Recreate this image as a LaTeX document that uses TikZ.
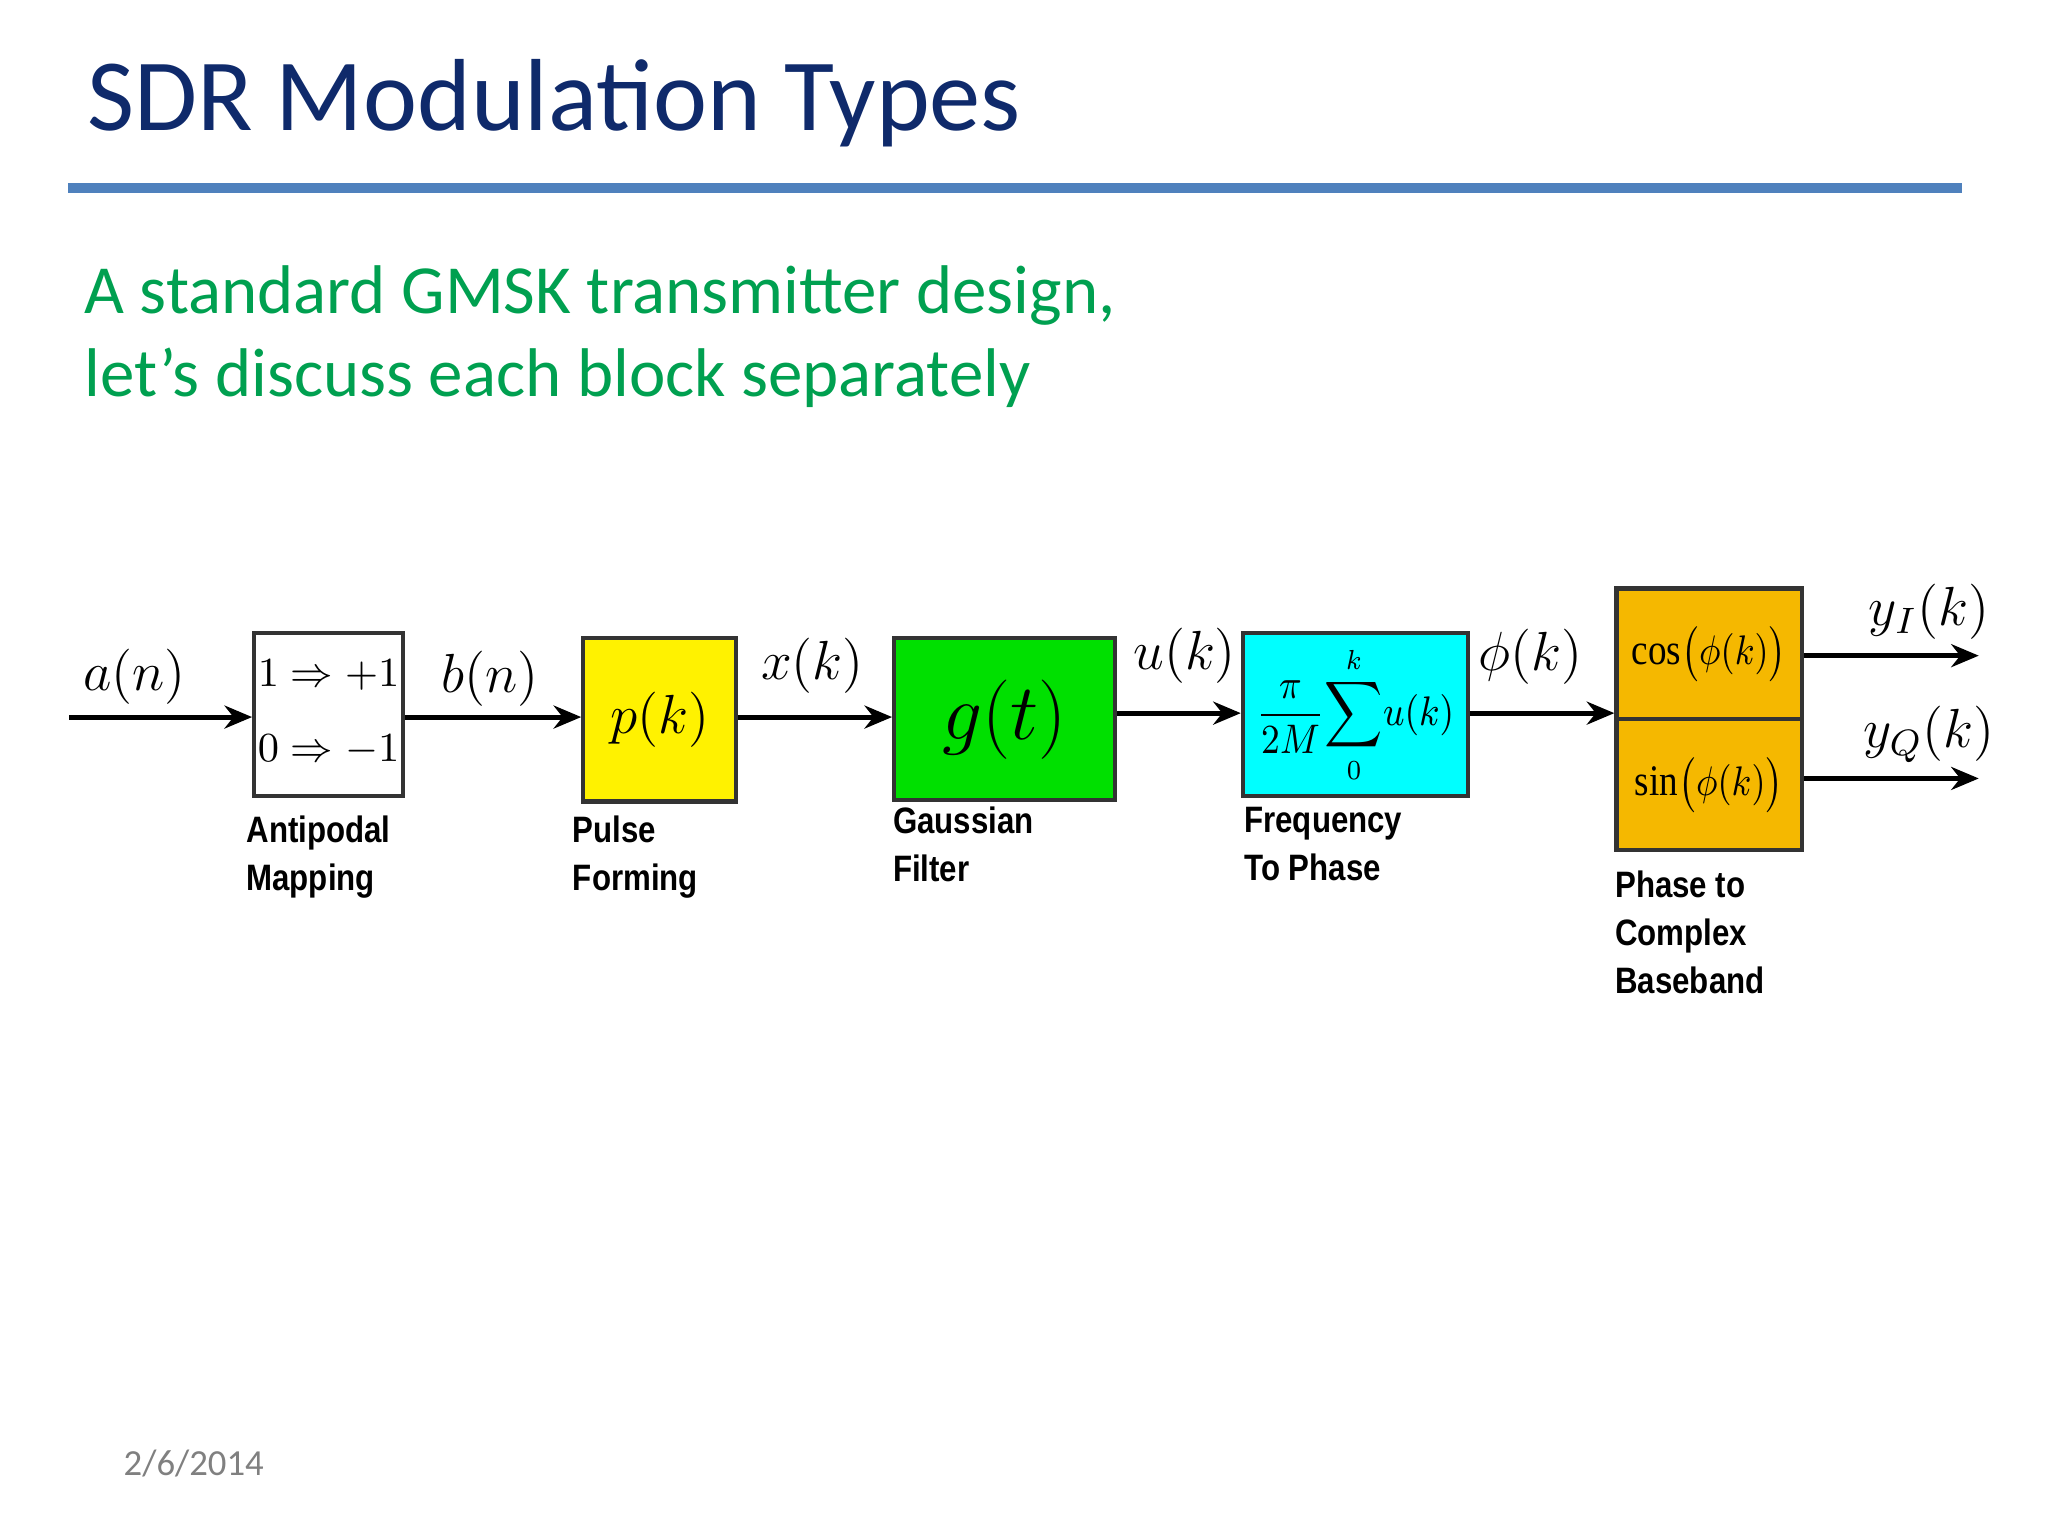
\documentclass[tikz,border=0pt]{standalone}
\usepackage{fontspec}
\setmainfont{Carlito}
\newfontfamily\lab{Liberation Sans}
\newfontfamily\tms{Liberation Serif}
\usetikzlibrary{arrows.meta}
\definecolor{navy}{HTML}{0F2A6B}
\definecolor{rulec}{HTML}{4F81BD}
\definecolor{grn}{HTML}{00A050}
\definecolor{gbox}{HTML}{00E000}
\definecolor{obox}{HTML}{F5B800}
\definecolor{cbox}{HTML}{00FFFF}
\tikzset{
 blk/.style={draw=black!80, line width=0.9pt, inner sep=0pt},
 arr/.style={line width=1.1pt, -{Stealth[length=6pt,width=5pt]}},
 blab/.style={anchor=north west, align=left, font=\lab\bfseries\fontsize{8}{10.5}\selectfont, inner sep=0pt},
 sig/.style={font=\fontsize{11.5}{14}\selectfont}
}
\begin{document}
\begin{tikzpicture}[x=0.01cm,y=-0.01cm]
\useasboundingbox (0,0) rectangle (1568,1176);
\node[anchor=base west, inner sep=0, text=navy, font=\fontsize{22.3}{26}\selectfont] (title) at (66,100) {SDR Modulation Types};
\draw[rulec, line width=2.2pt] (52,144) -- (1502,144);
\node[anchor=north west, inner sep=0, align=left, text=grn, font=\fontsize{15}{18}\selectfont] (sub) at (64,203) {A standard GMSK transmitter design,\\ let’s discuss each block separately};
\node[anchor=base west, inner sep=0, text=gray, font=\fontsize{8}{10}\selectfont] (date) at (94,1130) {2/6/2014};

% blocks
\node[blk, fill=white, anchor=north west, minimum width=1.14cm, minimum height=1.25cm] (am) at (193,483) {};
\node[font=\fontsize{9}{11}\selectfont] (am1) at ([yshift=-0.34cm]am.north) {$1\Rightarrow{+1}$};
\node[font=\fontsize{9}{11}\selectfont] (am2) at ([yshift=0.37cm]am.south) {$0\Rightarrow{-1}$};
\node[blk, fill=yellow, anchor=north west, minimum width=1.17cm, minimum height=1.25cm, font=\fontsize{13}{16}\selectfont] (pk) at (445,487) {$p(k)$};
\node[blk, fill=gbox, anchor=north west, minimum width=1.69cm, minimum height=1.24cm, font=\fontsize{17}{20}\selectfont] (gt) at (683,487) {$g(t)$};
\node[blk, fill=cbox, anchor=north west, minimum width=1.72cm, minimum height=1.25cm, font=\fontsize{9}{11}\selectfont] (fp) at (950,483) {\scalebox{0.88}[1]{$\displaystyle\frac{\pi}{2M}\!\sum_{0}^{k}\!u(k)$}};
\node[blk, fill=obox, anchor=north west, minimum width=1.42cm, minimum height=1.0cm, font=\fontsize{9.5}{12}\selectfont] (cs) at (1236,449) {\scalebox{0.85}[1]{{\tms cos}$\bigl(\phi(k)\bigr)$}};
\node[blk, fill=obox, anchor=north west, minimum width=1.42cm, minimum height=1.0cm, font=\fontsize{9.5}{12}\selectfont] (sn) at (1236,549) {\scalebox{0.85}[1]{{\tms sin}$\bigl(\phi(k)\bigr)$}};

% arrows
\coordinate (in) at (53,549);
\coordinate (oi) at (1515,502);
\coordinate (oq) at (1515,596);
\coordinate (r2) at (0,546);
\draw[arr] (in) -- (am.west|-in);
\draw[arr] (am.east|-in) -- (pk.west|-in);
\draw[arr] (pk.east|-in) -- (gt.west|-in);
\draw[arr] (gt.east|-r2) -- (fp.west|-r2);
\draw[arr] (fp.east|-r2) -- (cs.west|-r2);
\draw[arr] (cs.east|-oi) -- (oi);
\draw[arr] (sn.east|-oq) -- (oq);

% signal labels
\node[sig] (an) at (103,518) {$a(n)$};
\node[sig] (bn) at (375,520) {$b(n)$};
\node[sig] (xk) at (622,510) {$x(k)$};
\node[sig] (uk) at (907,502) {$u(k)$};
\node[sig] (ph) at (1172,503) {$\phi(k)$};
\node[sig] (yi) at (1477,468) {$y_I(k)$};
\node[sig] (yq) at (1477,562) {$y_Q(k)$};

% block labels
\node[blab] (l1) at (188,624) {\scalebox{0.85}[1]{Antipodal}\\\scalebox{0.85}[1]{Mapping}};
\node[blab] (l2) at (438,624) {\scalebox{0.85}[1]{Pulse}\\\scalebox{0.85}[1]{Forming}};
\node[blab] (l3) at (683,617) {\scalebox{0.85}[1]{Gaussian}\\\scalebox{0.85}[1]{Filter}};
\node[blab] (l4) at (952,617) {\scalebox{0.85}[1]{Frequency}\\\scalebox{0.85}[1]{To Phase}};
\node[blab] (l5) at (1236,666) {\scalebox{0.85}[1]{Phase to}\\\scalebox{0.85}[1]{Complex}\\\scalebox{0.85}[1]{Baseband}};
\end{tikzpicture}
\end{document}
